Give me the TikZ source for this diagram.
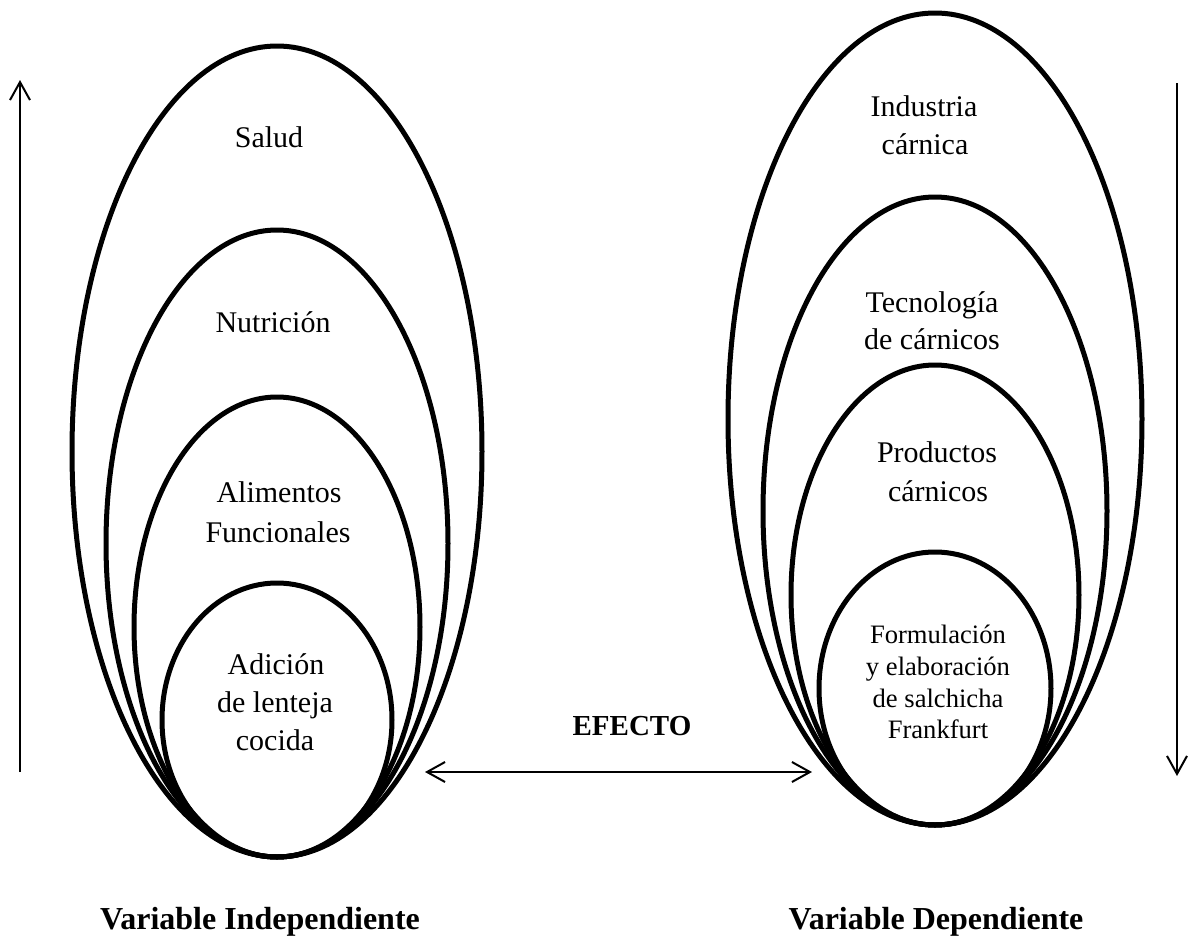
\documentclass[tikz,border=0pt]{standalone}
\usepackage{fontspec}
\setmainfont{Liberation Serif}
\usetikzlibrary{arrows.meta}
\begin{document}
\begin{tikzpicture}[x=0.5pt,y=-0.5pt,
  ring/.style={line width=2.5pt},
  axis/.style={line width=1pt,-{Straight Barb[length=9pt,width=10pt]}},
  both/.style={line width=1pt,{Straight Barb[length=9pt,width=10pt]}-{Straight Barb[length=9pt,width=10pt]}},
  txt/.style={font=\fontsize{15}{19}\selectfont,anchor=base,inner sep=0pt},
  small/.style={font=\fontsize{13.3}{16}\selectfont,anchor=base,inner sep=0pt},
  label/.style={font=\fontsize{16}{19}\selectfont\bfseries,anchor=base,inner sep=0pt}]
\useasboundingbox (0,0) rectangle (1191,938);

% independent variable: nested ellipses touching at the bottom
\draw[ring] (277,451.5) ellipse [x radius=102.5pt, y radius=202.75pt];
\draw[ring] (277,543.5) ellipse [x radius=85.5pt,  y radius=156.75pt];
\draw[ring] (277,627)   ellipse [x radius=71.5pt,  y radius=115pt];
\draw[ring] (277,720)   ellipse [x radius=57.5pt,  y radius=68.5pt];

% dependent variable: nested ellipses touching at the bottom
\draw[ring] (935,419)   ellipse [x radius=103.5pt, y radius=203pt];
\draw[ring] (935,511)   ellipse [x radius=86pt,    y radius=157pt];
\draw[ring] (935,595)   ellipse [x radius=72pt,    y radius=115pt];
\draw[ring] (935,688.5) ellipse [x radius=58pt,    y radius=68.25pt];

% labels inside the left ellipses
\node[txt] (salud) at (269,147) {Salud};
\node[txt] (nutri) at (273,332) {Nutrición};
\node[txt] (alim1) at (279,502) {Alimentos};
\node[txt] (alim2) at (278,542) {Funcionales};
\node[txt] (adic1) at (276,674) {Adición};
\node[txt] (adic2) at (275,712) {de lenteja};
\node[txt] (adic3) at (275,750) {cocida};

% labels inside the right ellipses
\node[txt] (ind1) at (924,116) {Industria};
\node[txt] (ind2) at (925,154) {cárnica};
\node[txt] (tec1) at (932,312) {Tecnología};
\node[txt] (tec2) at (932,349) {de cárnicos};
\node[txt] (pro1) at (937,462) {Productos};
\node[txt] (pro2) at (938,501) {cárnicos};
\node[small] (for1) at (938,643) {Formulación};
\node[small] (for2) at (938,675) {y elaboración};
\node[small] (for3) at (938,707) {de salchicha};
\node[small] (for4) at (938,738) {Frankfurt};

% effect between the two variables
\node[label,font=\fontsize{14.5}{18}\selectfont\bfseries] (efecto) at (632,735) {EFECTO};
\coordinate (effL) at (425,772);
\coordinate (effR) at (812,772);
\draw[both] (effL) -- (effR);

% side arrows
\coordinate (upB) at (20,772);
\coordinate (upT) at (20,80);
\draw[axis] (upB) -- (upT);
\coordinate (dnT) at (1177,83);
\coordinate (dnB) at (1177,776);
\draw[axis] (dnT) -- (dnB);

% captions
\node[label] (vind) at (260,929) {Variable Independiente};
\node[label] (vdep) at (936,929) {Variable Dependiente};
\end{tikzpicture}
\end{document}
